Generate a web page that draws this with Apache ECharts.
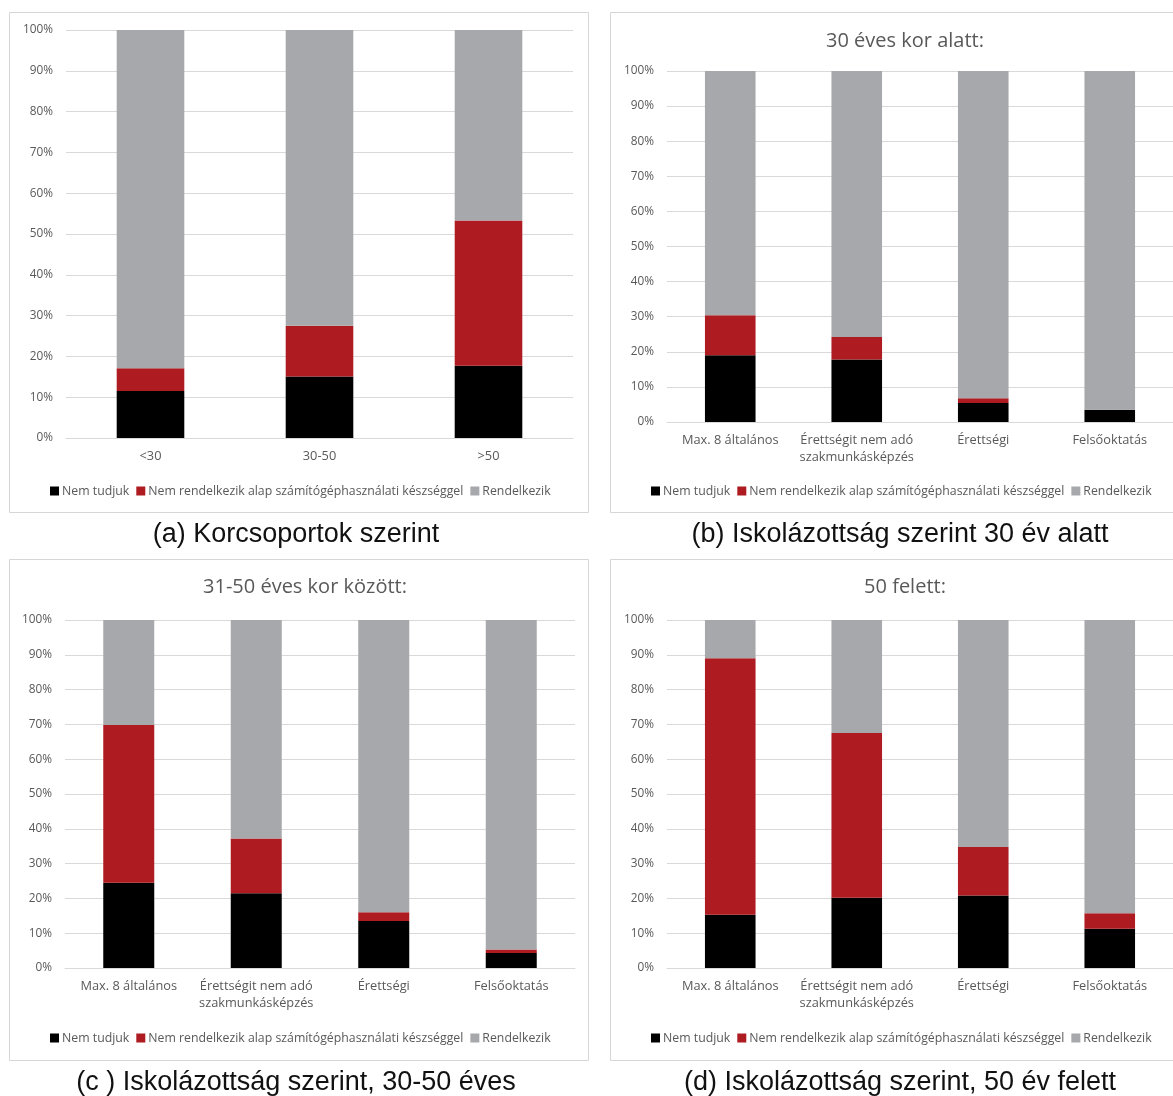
<!DOCTYPE html>
<html>
<head>
<meta charset="utf-8">
<title>Számítógéphasználati készség</title>
<script src="https://cdn.jsdelivr.net/npm/echarts@6/dist/echarts.min.js"></script>
<style>
  html, body { margin: 0; padding: 0; background: #ffffff; }
  #chart { width: 1173px; height: 1096px; }
</style>
</head>
<body>
<div id="chart"></div>
<script>
// Series names (legend)
const seriesNames = ['Nem tudjuk', 'Nem rendelkezik alap számítógéphasználati készséggel', 'Rendelkezik'];

// (a) by age group
const ageCategories = ['<30', '30-50', '>50'];
const ageUnknown = [11.5, 15.1, 17.7];
const ageLacks   = [5.6, 12.4, 35.6];
const ageHas     = [82.9, 72.5, 46.7];

// education levels used in (b), (c), (d)
const eduCategories = ['Max. 8 általános', 'Érettségit nem adó\nszakmunkásképzés', 'Érettségi', 'Felsőoktatás'];

// (b) under 30
const under30Unknown = [19.0, 17.8, 5.4, 3.5];
const under30Lacks   = [11.4, 6.4, 1.4, 0.0];
const under30Has     = [69.6, 75.8, 93.2, 96.5];

// (c) 31-50
const mid30to50Unknown = [24.5, 21.5, 13.5, 4.3];
const mid30to50Lacks   = [45.3, 15.7, 2.5, 1.0];
const mid30to50Has     = [30.2, 62.8, 84.0, 94.7];

// (d) over 50
const over50Unknown = [15.3, 20.2, 20.8, 11.3];
const over50Lacks   = [73.7, 47.3, 14.0, 4.4];
const over50Has     = [11.0, 32.5, 65.2, 84.3];

// Panel titles and captions
const panelTitles = ['', '30 éves kor alatt:', '31-50 éves kor között:', '50 felett:'];
const captions = ['(a) Korcsoportok szerint', '(b) Iskolázottság szerint 30 év alatt',
                  '(c ) Iskolázottság szerint, 30-50 éves', '(d) Iskolázottság szerint, 50 év felett'];
const yTicks = { min: 0, max: 100, interval: 10 };

const COLORS = ['#000000', '#ae1c22', '#a6a8ab'];
const TEXT = '#595959';
const FONT = '"Open Sans", "Noto Sans", sans-serif';

const panels = [
  { cats: ageCategories, data: [ageUnknown, ageLacks, ageHas],
    grid: { left: 66, right: 600, top: 30, bottom: 658 },
    box: { x: 9.5, y: 12.5, w: 579, h: 500 }, legendCx: 300, legendY: 480, titleCx: 300, titleY: 0, captionCx: 296, captionY: 535 },
  { cats: eduCategories, data: [under30Unknown, under30Lacks, under30Has],
    grid: { left: 667, right: 0, top: 71, bottom: 674 },
    box: { x: 610.5, y: 12.5, w: 570, h: 500 }, legendCx: 901, legendY: 480, titleCx: 900, titleY: 29, captionCx: 900, captionY: 535 },
  { cats: eduCategories, data: [mid30to50Unknown, mid30to50Lacks, mid30to50Has],
    grid: { left: 65, right: 598, top: 620, bottom: 128 },
    box: { x: 9.5, y: 559.5, w: 579, h: 501 }, legendCx: 300, legendY: 1027, titleCx: 300, titleY: 575, captionCx: 296, captionY: 1083 },
  { cats: eduCategories, data: [over50Unknown, over50Lacks, over50Has],
    grid: { left: 667, right: 0, top: 620, bottom: 128 },
    box: { x: 610.5, y: 559.5, w: 570, h: 501 }, legendCx: 901, legendY: 1027, titleCx: 900, titleY: 575, captionCx: 900, captionY: 1083 }
];

const grid = [], xAxis = [], yAxis = [], series = [], legend = [], title = [], graphic = [];

panels.forEach((p, i) => {
  graphic.push({
    type: 'rect', z: -1, silent: true,
    shape: { x: p.box.x, y: p.box.y, width: p.box.w, height: p.box.h },
    style: { fill: '#ffffff', stroke: '#d6d6d6', lineWidth: 1 }
  });
  graphic.push({
    type: 'text', silent: true,
    x: p.captionCx, y: p.captionY,
    style: { text: captions[i], fill: '#111111', font: '27px "Liberation Sans", Arial, sans-serif', textAlign: 'center', textVerticalAlign: 'middle' }
  });
  if (panelTitles[i]) {
    title.push({
      text: panelTitles[i], left: p.titleCx, top: p.titleY - 3, textAlign: 'center',
      textStyle: { color: TEXT, fontFamily: FONT, fontSize: 20, fontWeight: 'normal' }
    });
  }
  grid.push(Object.assign({ containLabel: false }, p.grid));
  xAxis.push({
    type: 'category', gridIndex: i, data: p.cats,
    axisLine: { lineStyle: { color: '#d9d9d9' } },
    axisTick: { show: false },
    axisLabel: { color: TEXT, fontFamily: FONT, fontSize: 12.8, margin: 10, lineHeight: 17, interval: 0 }
  });
  yAxis.push({
    type: 'value', gridIndex: i, min: yTicks.min, max: yTicks.max, interval: yTicks.interval,
    axisLine: { show: false }, axisTick: { show: false },
    axisLabel: { color: TEXT, fontFamily: FONT, fontSize: 11.8, margin: 13, formatter: '{value}%' },
    splitLine: { lineStyle: { color: '#d9d9d9', width: 1 } }
  });
  seriesNames.forEach((name, k) => {
    series.push({
      name, type: 'bar', stack: 'p' + i, xAxisIndex: i, yAxisIndex: i,
      data: p.data[k], barCategoryGap: '60%',
      itemStyle: { color: COLORS[k] }, silent: true
    });
  });
  legend.push({
    data: seriesNames, left: 0, top: p.legendY,
    itemWidth: 9, itemHeight: 9, itemGap: 7, icon: 'rect',
    textStyle: { color: TEXT, fontFamily: FONT, fontSize: 12.3, padding: [0, 0, 0, -2] },
    selectedMode: false
  });
});

const chart = echarts.init(document.getElementById('chart'), null, { renderer: 'canvas' });
chart.setOption({ animation: false, backgroundColor: '#ffffff', title, grid, xAxis, yAxis, series, legend, graphic });

// centre each legend on its panel once its width is known
const legendViews = (chart._componentsViews || []).filter(v => v && v.__model && v.__model.mainType === 'legend');
const newLegend = panels.map((p, i) => {
  const view = legendViews.find(v => v.__model.componentIndex === i);
  if (!view) return {};
  const rect = view.group.getBoundingRect();
  return { left: Math.round(p.legendCx - rect.width / 2) };
});
chart.setOption({ legend: newLegend });
</script>
</body>
</html>
